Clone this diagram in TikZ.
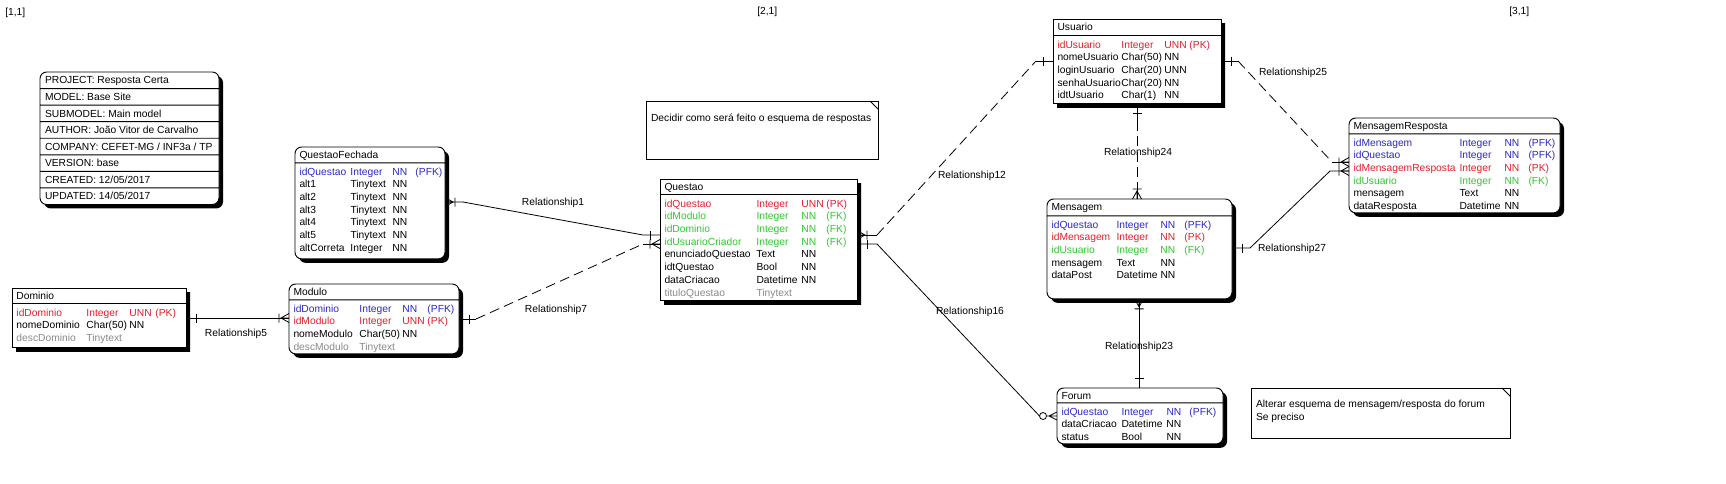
\documentclass[tikz,border=0pt]{standalone}
\usepackage{fontspec}
\setmainfont{Liberation Sans}
\usepackage{xcolor}
\definecolor{clPFK}{HTML}{2A2AC4}
\definecolor{clPK}{HTML}{E0202A}
\definecolor{clFK}{HTML}{30C830}
\definecolor{clOpt}{HTML}{8A8A8A}
\usetikzlibrary{calc,shapes.multipart,shadows}

% one pixel of the model
\newdimen\pxu \pxu=0.75pt
\newdimen\colB \newdimen\colC \newdimen\colD
\newcommand\rowskip{\baselineskip=12.7\pxu\lineskip=0pt\lineskiplimit=-\maxdimen}
\newcommand\ertitle[3]{\hbox to #1\pxu{\hskip4.5\pxu\vrule height11.5\pxu depth\dimexpr#2\pxu-11.5\pxu\relax width0pt #3\hss}}
\newcommand\erbody[6]{\vbox to #2\pxu{\hsize=#1\pxu\rowskip
  \colB=#3\pxu\colC=#4\pxu\colD=#5\pxu\hbox to #1\pxu{}\nointerlineskip #6\vfil}}
\newcommand\erow[5]{\hbox{\hskip4.5\pxu\color{#1}\vrule height11.7\pxu depth1\pxu width0pt
  \rlap{#2}\hskip\colB\rlap{#3}\hskip\dimexpr\colC-\colB\relax\rlap{#4}\hskip\dimexpr\colD-\colC\relax#5}}
\newcommand\infoline[1]{\hbox to 179\pxu{\hskip5\pxu\vrule height11.5\pxu depth4.125\pxu width0pt #1\hss}}
\newcommand\notebody[4]{\vbox to #2\pxu{\hsize=#1\pxu\rowskip\hbox to #1\pxu{}\nointerlineskip\vskip#3\pxu #4\vfil}}
\newcommand\noteline[1]{\hbox{\hskip5\pxu\vrule height11.7\pxu depth1\pxu width0pt #1}}

\tikzset{
  entity/.style={rectangle split, rectangle split parts=2, draw, fill=white,
                 line width=0.7pt, inner sep=0pt, outer sep=0pt, anchor=north west,
                 drop shadow={shadow xshift=3pt, shadow yshift=-3pt, fill=black, opacity=1}},
  roundent/.style={entity, rounded corners=5pt},
  infobox/.style={roundent, rectangle split parts=8},
  notebox/.style={rectangle, draw, fill=white, line width=0.7pt, inner sep=0pt,
                  outer sep=0pt, anchor=north west},
  notefold/.style={line width=0.7pt},
  gridlabel/.style={anchor=west, inner sep=0pt},
  rellabel/.style={inner sep=0pt},
  rel/.style={draw=black, line width=0.6pt},
  reldash/.style={rel, dash pattern=on 7.5pt off 4pt},
  onemark/.pic={\draw[rel] (10,-4.5) -- (10,4.5);},
  manymark/.pic={\draw[rel] (0,-4.5) -- (8,0) -- (0,4.5) (0,0) -- (8,0) (10,-4.5) -- (10,4.5);},
  zeromany/.pic={\draw[rel] (0,-4) -- (8,0) -- (0,4) (0,0) -- (10.5,0);
                 \draw[rel, fill=white] (14,0) circle (3.5);},
}

\begin{document}
\begin{tikzpicture}[x=0.75pt, y=-0.75pt, font=\fontsize{7.7}{9}\selectfont]
  \fill[white] (0,0) rectangle (1726,483);
  \useasboundingbox (0,0) rectangle (1726,483);

  \node[gridlabel] (g11) at (5,13) {[1,1]};
  \node[gridlabel] (g21) at (757,12) {[2,1]};
  \node[gridlabel] (g31) at (1509,12) {[3,1]};

  % model info
  \node[infobox] (projinfo) at (40,72) {\infoline{PROJECT: Resposta Certa}
    \nodepart{two}\infoline{MODEL: Base Site}
    \nodepart{three}\infoline{SUBMODEL: Main model}
    \nodepart{four}\infoline{AUTHOR: João Vitor de Carvalho}
    \nodepart{five}\infoline{COMPANY: CEFET-MG / INF3a / TP}
    \nodepart{six}\infoline{VERSION: base}
    \nodepart{seven}\infoline{CREATED: 12/05/2017}
    \nodepart{eight}\infoline{UPDATED: 14/05/2017}};

  % notes
  \node[notebox] (notaRespostas) at (646,101)
    {\notebody{232}{58}{9}{\noteline{Decidir como será feito o esquema de respostas}}};
  \draw[notefold] ($(notaRespostas.north east)+(-8,0)$) -- ++(8,8);
  \node[notebox] (notaForum) at (1251,388)
    {\notebody{259}{50}{8}{\noteline{Alterar esquema de mensagem/resposta do forum}\noteline{Se preciso}}};
  \draw[notefold] ($(notaForum.north east)+(-8,0)$) -- ++(8,8);

  % entities
  \node[roundent] (qfechada) at (295,147) {\ertitle{150}{15}{QuestaoFechada}
    \nodepart{two}\erbody{150}{95}{51}{93}{116}{%
      \erow{clPFK}{idQuestao}{Integer}{NN}{(PFK)}
      \erow{black}{alt1}{Tinytext}{NN}{}
      \erow{black}{alt2}{Tinytext}{NN}{}
      \erow{black}{alt3}{Tinytext}{NN}{}
      \erow{black}{alt4}{Tinytext}{NN}{}
      \erow{black}{alt5}{Tinytext}{NN}{}
      \erow{black}{altCorreta}{Integer}{NN}{}}};

  \node[entity] (dominio) at (12,288) {\ertitle{174}{15}{Dominio}
    \nodepart{two}\erbody{174}{43}{70}{113}{139}{%
      \erow{clPK}{idDominio}{Integer}{UNN}{(PK)}
      \erow{black}{nomeDominio}{Char(50)}{NN}{}
      \erow{clOpt}{descDominio}{Tinytext}{}{}}};

  \node[roundent] (modulo) at (289,284) {\ertitle{170}{15}{Modulo}
    \nodepart{two}\erbody{170}{53}{66}{109}{134}{%
      \erow{clPFK}{idDominio}{Integer}{NN}{(PFK)}
      \erow{clPK}{idModulo}{Integer}{UNN}{(PK)}
      \erow{black}{nomeModulo}{Char(50)}{NN}{}
      \erow{clOpt}{descModulo}{Tinytext}{}{}}};

  \node[entity] (questao) at (660,179) {\ertitle{197}{15}{Questao}
    \nodepart{two}\erbody{197}{105}{92}{137}{162}{%
      \erow{clPK}{idQuestao}{Integer}{UNN}{(PK)}
      \erow{clFK}{idModulo}{Integer}{NN}{(FK)}
      \erow{clFK}{idDominio}{Integer}{NN}{(FK)}
      \erow{clFK}{idUsuarioCriador}{Integer}{NN}{(FK)}
      \erow{black}{enunciadoQuestao}{Text}{NN}{}
      \erow{black}{idtQuestao}{Bool}{NN}{}
      \erow{black}{dataCriacao}{Datetime}{NN}{}
      \erow{clOpt}{tituloQuestao}{Tinytext}{}{}}};

  \node[entity] (usuario) at (1053,19) {\ertitle{168}{16}{Usuario}
    \nodepart{two}\erbody{168}{67}{64}{107}{132}{%
      \erow{clPK}{idUsuario}{Integer}{UNN}{(PK)}
      \erow{black}{nomeUsuario}{Char(50)}{NN}{}
      \erow{black}{loginUsuario}{Char(20)}{UNN}{}
      \erow{black}{senhaUsuario}{Char(20)}{NN}{}
      \erow{black}{idtUsuario}{Char(1)}{NN}{}}};

  \node[roundent] (mensagem) at (1047,199) {\ertitle{185}{16}{Mensagem}
    \nodepart{two}\erbody{185}{82}{65}{109}{133}{%
      \erow{clPFK}{idQuestao}{Integer}{NN}{(PFK)}
      \erow{clPK}{idMensagem}{Integer}{NN}{(PK)}
      \erow{clFK}{idUsuario}{Integer}{NN}{(FK)}
      \erow{black}{mensagem}{Text}{NN}{}
      \erow{black}{dataPost}{Datetime}{NN}{}}};

  \node[roundent] (mensresp) at (1349,118) {\ertitle{211}{15}{MensagemResposta}
    \nodepart{two}\erbody{211}{78}{106}{151}{175}{%
      \erow{clPFK}{idMensagem}{Integer}{NN}{(PFK)}
      \erow{clPFK}{idQuestao}{Integer}{NN}{(PFK)}
      \erow{clPK}{idMensagemResposta}{Integer}{NN}{(PK)}
      \erow{clFK}{idUsuario}{Integer}{NN}{(FK)}
      \erow{black}{mensagem}{Text}{NN}{}
      \erow{black}{dataResposta}{Datetime}{NN}{}}};

  \node[roundent] (forum) at (1057,388) {\ertitle{166}{14}{Forum}
    \nodepart{two}\erbody{166}{40}{60}{105}{128}{%
      \erow{clPFK}{idQuestao}{Integer}{NN}{(PFK)}
      \erow{black}{dataCriacao}{Datetime}{NN}{}
      \erow{black}{status}{Bool}{NN}{}}};

  % Relationship1
  \coordinate (r1a) at ($(qfechada.north east)+(0,55)$);
  \coordinate (r1b) at ($(questao.north west)+(0,56)$);
  \draw[rel] (r1a) -- ++(18,0) -- ($(r1b)+(-17,0)$) -- (r1b);
  \pic at (r1a) {manymark};
  \pic[rotate=180] at (r1b) {onemark};
  \node[rellabel] (lbR1) at (553,203) {Relationship1};

  % Relationship7
  \coordinate (r7a) at ($(modulo.north east)+(0,35)$);
  \coordinate (r7b) at ($(questao.north west)+(0,65)$);
  \draw[rel] (r7a) -- ++(17,0) coordinate (r7c);
  \draw[rel] (r7b) -- ++(-17,0) coordinate (r7d);
  \draw[reldash] (r7c) -- (r7d);
  \pic at (r7a) {onemark};
  \pic[rotate=180] at (r7b) {manymark};
  \node[rellabel] (lbR7) at (556,310) {Relationship7};

  % Relationship5
  \coordinate (r5a) at ($(dominio.north east)+(0,30)$);
  \coordinate (r5b) at ($(modulo.north west)+(0,34)$);
  \draw[rel] (r5a) -- (r5b);
  \pic at (r5a) {onemark};
  \pic[rotate=180] at (r5b) {manymark};
  \node[rellabel] (lbR5) at (236,334) {Relationship5};

  % Relationship12
  \coordinate (r12a) at ($(questao.north east)+(0,56)$);
  \coordinate (r12b) at ($(usuario.north west)+(0,42)$);
  \draw[rel] (r12a) -- ++(20,0) coordinate (r12c);
  \draw[rel] (r12b) -- ++(-17,0) coordinate (r12d);
  \draw[reldash] (r12c) -- (r12d);
  \pic at (r12a) {manymark};
  \pic[rotate=180] at (r12b) {onemark};
  \node[rellabel] (lbR12) at (972,176) {Relationship12};

  % Relationship16
  \coordinate (r16a) at ($(questao.north east)+(0,65)$);
  \coordinate (r16b) at ($(forum.north west)+(0,28)$);
  \draw[rel] (r16a) -- ++(20,0) -- ($(r16b)+(-17.5,0)$);
  \pic at (r16a) {onemark};
  \pic[rotate=180] at (r16b) {zeromany};
  \node[rellabel] (lbR16) at (970,312) {Relationship16};

  % Relationship24
  \coordinate (r24a) at ($(usuario.south west)+(84,0)$);
  \coordinate (r24b) at ($(mensagem.north west)+(90,0)$);
  \draw[rel] (r24a) -- ++(0,17) coordinate (r24c);
  \draw[rel] (r24b) -- ++(0,-17) coordinate (r24d);
  \draw[reldash] (r24c) -- (r24d);
  \pic[rotate=-90] at (r24a) {onemark};
  \pic[rotate=90] at (r24b) {manymark};
  \node[rellabel] (lbR24) at (1138,153) {Relationship24};

  % Relationship25
  \coordinate (r25a) at ($(usuario.north east)+(0,42)$);
  \coordinate (r25b) at ($(mensresp.north west)+(0,44)$);
  \draw[rel] (r25a) -- ++(17,0) coordinate (r25c);
  \draw[rel] (r25b) -- ++(-17,0) coordinate (r25d);
  \draw[reldash] (r25c) -- (r25d);
  \pic at (r25a) {onemark};
  \pic[rotate=180] at (r25b) {manymark};
  \node[rellabel] (lbR25) at (1293,73) {Relationship25};

  % Relationship27
  \coordinate (r27a) at ($(mensagem.north east)+(0,49)$);
  \coordinate (r27b) at ($(mensresp.north west)+(0,53)$);
  \draw[rel] (r27a) -- ++(18,0) -- ($(r27b)+(-19,0)$) -- (r27b);
  \pic at (r27a) {onemark};
  \pic[rotate=180] at (r27b) {manymark};
  \node[rellabel] (lbR27) at (1292,249) {Relationship27};

  % Relationship23
  \coordinate (r23a) at ($(mensagem.south west)+(92,0)$);
  \coordinate (r23b) at ($(forum.north west)+(82,0)$);
  \draw[rel] (r23a) -- (r23b);
  \pic[rotate=-90] at (r23a) {manymark};
  \pic[rotate=90] at (r23b) {onemark};
  \node[rellabel] (lbR23) at (1139,347) {Relationship23};
\end{tikzpicture}
\end{document}
